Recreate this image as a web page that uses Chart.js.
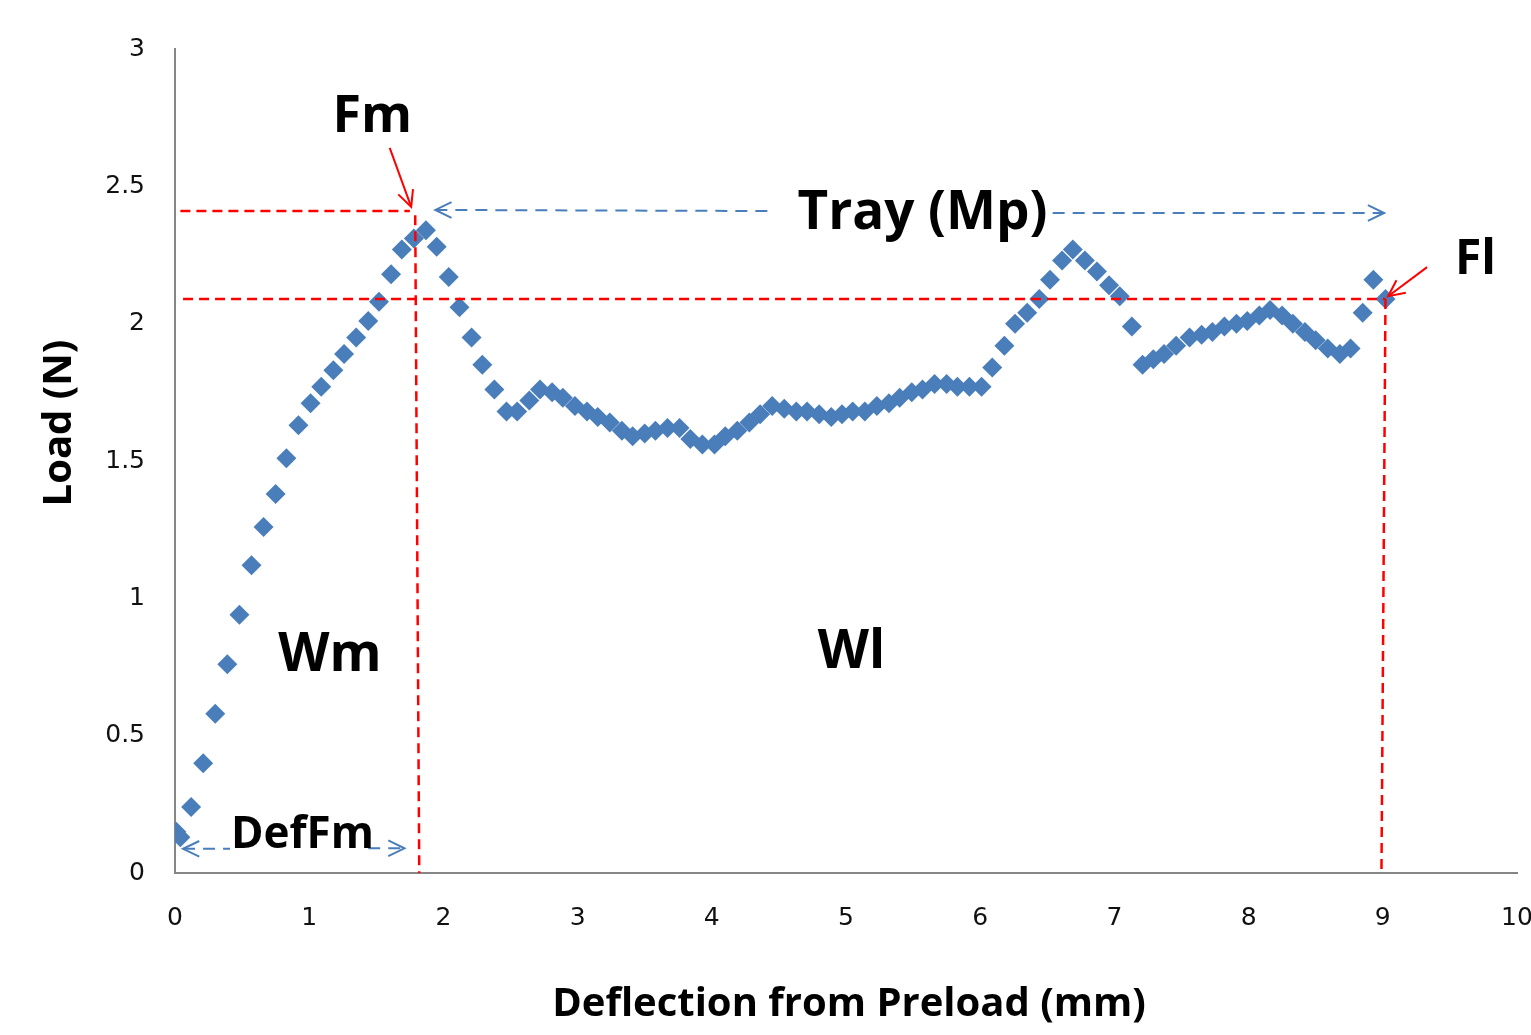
<!DOCTYPE html>
<html>
<head>
<meta charset="utf-8">
<script src="https://cdn.jsdelivr.net/npm/chart.js@4.4.1/dist/chart.umd.min.js"></script>
<style>
    html, body { margin: 0; padding: 0; background: #fff; overflow: hidden; }
    #wrap { width: 1531px; height: 1035px; }
</style>
</head>
<body>
<div id="wrap"><canvas id="chart"></canvas></div>
<script>
// deflection (mm) and load (N)
const deflection = [
    0.01, 0.04, 0.12, 0.21, 0.30, 0.39, 0.48, 0.57, 0.66, 0.75,
    0.83, 0.92, 1.01, 1.09, 1.18, 1.26, 1.35, 1.44, 1.52, 1.61,
    1.69, 1.78, 1.87, 1.95, 2.04, 2.12, 2.21, 2.29, 2.38, 2.47,
    2.55, 2.64, 2.72, 2.81, 2.89, 2.98, 3.07, 3.15, 3.24, 3.33,
    3.41, 3.50, 3.58, 3.67, 3.76, 3.84, 3.93, 4.02, 4.10, 4.19,
    4.28, 4.36, 4.45, 4.54, 4.63, 4.71, 4.80, 4.89, 4.97, 5.05,
    5.14, 5.23, 5.32, 5.40, 5.49, 5.57, 5.66, 5.75, 5.83, 5.92,
    6.01, 6.09, 6.18, 6.26, 6.35, 6.44, 6.52, 6.61, 6.69, 6.78,
    6.87, 6.96, 7.04, 7.13, 7.21, 7.29, 7.37, 7.46, 7.56, 7.65,
    7.73, 7.82, 7.91, 7.99, 8.08, 8.16, 8.25, 8.33, 8.42, 8.50,
    8.59, 8.68, 8.76, 8.85, 8.93, 9.02
];
const load = [
    0.15, 0.13, 0.24, 0.40, 0.58, 0.76, 0.94, 1.12, 1.26, 1.38,
    1.51, 1.63, 1.71, 1.77, 1.83, 1.89, 1.95, 2.01, 2.08, 2.18,
    2.27, 2.31, 2.34, 2.28, 2.17, 2.06, 1.95, 1.85, 1.76, 1.68,
    1.68, 1.72, 1.76, 1.75, 1.73, 1.70, 1.68, 1.66, 1.64, 1.61,
    1.59, 1.60, 1.61, 1.62, 1.62, 1.58, 1.56, 1.56, 1.59, 1.61,
    1.64, 1.67, 1.70, 1.69, 1.68, 1.68, 1.67, 1.66, 1.67, 1.68,
    1.68, 1.70, 1.71, 1.73, 1.75, 1.76, 1.78, 1.78, 1.77, 1.77,
    1.77, 1.84, 1.92, 2.00, 2.04, 2.09, 2.16, 2.23, 2.27, 2.23,
    2.19, 2.14, 2.10, 1.99, 1.85, 1.87, 1.89, 1.92, 1.95, 1.96,
    1.97, 1.99, 2.00, 2.01, 2.03, 2.05, 2.03, 2.00, 1.97, 1.94,
    1.91, 1.89, 1.91, 2.04, 2.16, 2.09
];
const xRange = [0, 10];
const yRange = [0, 3];

// reference levels used by the annotation overlay
const fmLevel = 2.41;
const flLevel = 2.09;
const fmDeflection = 1.8;
const flDeflection = 9.0;

const BLUE = '#4A7EBB';
const RED = '#FF0000';

const font = (size) => `bold ${size}px "Open Sans", sans-serif`;

const dashedLine = (ctx, x1, y1, x2, y2, color, dash, width) => {
    ctx.save();
    ctx.strokeStyle = color;
    ctx.lineWidth = width;
    ctx.setLineDash(dash);
    ctx.beginPath();
    ctx.moveTo(x1, y1);
    ctx.lineTo(x2, y2);
    ctx.stroke();
    ctx.restore();
};

// open chevron with tip at (x2, y2) pointing away from (x1, y1)
const arrowHead = (ctx, x1, y1, x2, y2, color, width, len) => {
    const a = Math.atan2(y2 - y1, x2 - x1);
    ctx.save();
    ctx.strokeStyle = color;
    ctx.lineWidth = width;
    ctx.setLineDash([]);
    ctx.beginPath();
    ctx.moveTo(x2 - len * Math.cos(a - 0.45), y2 - len * Math.sin(a - 0.45));
    ctx.lineTo(x2, y2);
    ctx.lineTo(x2 - len * Math.cos(a + 0.45), y2 - len * Math.sin(a + 0.45));
    ctx.stroke();
    ctx.restore();
};

const label = (ctx, text, x, y, size) => {
    ctx.save();
    ctx.font = font(size);
    ctx.fillStyle = '#000';
    ctx.textAlign = 'center';
    ctx.textBaseline = 'middle';
    ctx.fillText(text, x, y);
    ctx.restore();
};

const overlay = {
    id: 'overlay',
    afterDatasetsDraw(chart) {
        const {ctx, chartArea} = chart;
        const x = chart.scales.x;
        const y = chart.scales.y;
        const px = (v) => x.getPixelForValue(v);
        const py = (v) => y.getPixelForValue(v);

        // red guide lines
        dashedLine(ctx, px(0.04), py(fmLevel), px(1.75), py(fmLevel), RED, [10, 6], 2.5);
        dashedLine(ctx, px(0.06), py(flLevel), px(flDeflection + 0.02), py(flLevel), RED, [10, 6], 2.5);
        dashedLine(ctx, px(fmDeflection - 0.01), py(2.395), px(fmDeflection + 0.02), py(0), RED, [10, 6], 2.5);
        dashedLine(ctx, px(flDeflection + 0.02), py(flLevel), px(flDeflection - 0.01), py(0), RED, [10, 6], 2.5);

        // red pointers for Fm and Fl
        ctx.save();
        ctx.strokeStyle = RED;
        ctx.lineWidth = 2;
        ctx.beginPath();
        ctx.moveTo(px(1.60), py(2.64));
        ctx.lineTo(px(1.76), py(2.425));
        ctx.moveTo(px(9.33), py(2.206));
        ctx.lineTo(px(9.04), py(2.10));
        ctx.stroke();
        ctx.restore();
        arrowHead(ctx, px(1.60), py(2.64), px(1.76), py(2.425), RED, 2, 18);
        arrowHead(ctx, px(9.33), py(2.206), px(9.04), py(2.10), RED, 2, 18);

        // Tray (Mp) span
        dashedLine(ctx, px(1.94), py(2.414), px(4.45), py(2.41), BLUE, [12, 8], 2);
        dashedLine(ctx, px(6.54), py(2.403), px(9.01), py(2.403), BLUE, [12, 8], 2);
        arrowHead(ctx, px(2.2), py(2.414), px(1.94), py(2.414), BLUE, 2, 18);
        arrowHead(ctx, px(8.8), py(2.403), px(9.01), py(2.403), BLUE, 2, 18);

        // DefFm span
        dashedLine(ctx, px(0.06), py(0.088), px(0.41), py(0.088), BLUE, [12, 8], 2);
        dashedLine(ctx, px(1.44), py(0.09), px(1.71), py(0.09), BLUE, [12, 8], 2);
        arrowHead(ctx, px(0.3), py(0.088), px(0.06), py(0.088), BLUE, 2, 18);
        arrowHead(ctx, px(1.5), py(0.09), px(1.71), py(0.09), BLUE, 2, 18);

        label(ctx, 'Fm', px(1.47), py(2.75), 52);
        label(ctx, 'Tray (Mp)', px(5.57), py(2.40), 53);
        label(ctx, 'Fl', px(9.69), py(2.23), 48);
        label(ctx, 'Wm', px(1.155), py(0.79), 53);
        label(ctx, 'Wl', px(5.04), py(0.80), 53);
        label(ctx, 'DefFm', px(0.95), py(0.135), 44);

        // axis titles
        label(ctx, 'Deflection from Preload (mm)', (chartArea.left + chartArea.right) / 2 + 3, 1005, 40);
        ctx.save();
        ctx.translate(60, 423);
        ctx.rotate(-Math.PI / 2);
        label(ctx, 'Load (N)', 0, 0, 40);
        ctx.restore();
    }
};

const points = deflection.map((d, i) => ({x: d, y: load[i]}));

new Chart(document.getElementById('chart'), {
    type: 'scatter',
    data: {
        datasets: [{
            label: 'Load',
            data: points,
            pointStyle: 'rectRot',
            pointRadius: 10,
            pointHoverRadius: 10,
            backgroundColor: BLUE,
            borderColor: BLUE,
            borderWidth: 0
        }]
    },
    options: {
        responsive: true,
        maintainAspectRatio: false,
        animation: false,
        layout: {
            padding: {top: 49, right: 14, left: 0, bottom: 0}
        },
        plugins: {
            legend: {display: false},
            tooltip: {enabled: false}
        },
        scales: {
            x: {
                type: 'linear',
                min: xRange[0],
                max: xRange[1],
                grid: {display: false, drawTicks: false},
                border: {display: true, color: '#868686', width: 2},
                ticks: {
                    stepSize: 1,
                    padding: 30,
                    color: '#111',
                    font: {family: '"DejaVu Sans"', size: 25}
                },
                afterFit: (scale) => {
                    scale.height = 162;
                    scale.paddingLeft = 0;
                    scale.paddingRight = 14;
                }
            },
            y: {
                type: 'linear',
                min: yRange[0],
                max: yRange[1],
                grid: {display: false, drawTicks: false},
                border: {display: true, color: '#868686', width: 2},
                ticks: {
                    stepSize: 0.5,
                    padding: 30,
                    color: '#111',
                    font: {family: '"DejaVu Sans"', size: 25},
                    callback: (value) => String(value)
                },
                afterFit: (scale) => { scale.width = 175; }
            }
        }
    },
    plugins: [overlay]
});
</script>
</body>
</html>
